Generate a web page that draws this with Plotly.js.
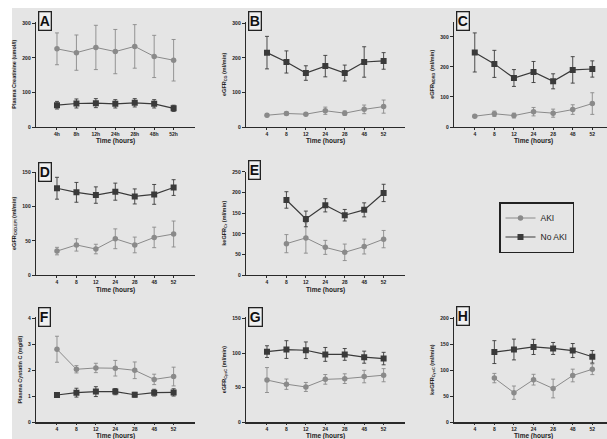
<!DOCTYPE html>
<html>
<head>
<meta charset="utf-8">
<script src="https://cdn.plot.ly/plotly-3.0.1.min.js"></script>
<style>html,body{margin:0;padding:0;background:#fff;}#chart{width:607px;height:439px;}</style>
</head>
<body>
<div id="chart"></div>
<script>
// ---- categories ----
const catsA = ["4h","8h","12h","24h","28h","48h","52h"];
const cats  = ["4","8","12","24","28","48","52"];

// ---- A: Plasma Creatinine (umol/l) ----
const A_aki      = [226, 215, 230, 218, 233, 204, 193];
const A_aki_err  = [46, 51, 64, 64, 63, 61, 60];
const A_no       = [63, 68, 69, 67, 70, 67, 54];
const A_no_err   = [11, 13, 13, 12, 12, 12, 9];
// ---- B: eGFR CG ----
const B_aki      = [34, 39, 37, 47, 40, 51, 59];
const B_aki_err  = [4, 4.5, 4, 10.5, 6.5, 12.5, 19];
const B_no       = [215, 188, 156, 176, 156, 188, 191];
const B_no_err   = [47, 32, 21, 31, 23, 44, 24];
// ---- C: eGFR MDRD ----
const C_aki      = [36, 44, 38, 51, 46, 58, 78];
const C_aki_err  = [3.5, 9, 8, 14, 13.5, 16, 36];
const C_no       = [248, 210, 163, 183, 152, 190, 193];
const C_no_err   = [65, 45, 28, 35, 25, 44, 27];
// ---- D: eGFR CKD-EPI ----
const D_aki      = [35, 44, 38, 53, 44, 55, 60];
const D_aki_err  = [5.5, 9, 7, 14.5, 11.5, 15, 19];
const D_no       = [127, 121, 117, 122, 115, 118, 128];
const D_no_err   = [16, 14.5, 12, 12.5, 11, 14.5, 11.5];
// ---- E: keGFR Cr ----
const E_aki      = [null, 76, 90, 67, 55, 69, 87];
const E_aki_err  = [null, 22, 37, 17, 20, 18, 21];
const E_no       = [null, 182, 136, 169, 145, 158, 199];
const E_no_err   = [null, 20, 19, 16, 14, 17, 21];
// ---- F: Plasma Cystatin C (mg/dl) ----
const F_aki      = [2.81, 2.04, 2.09, 2.08, 2.0, 1.65, 1.76];
const F_aki_err  = [0.5, 0.14, 0.18, 0.3, 0.32, 0.2, 0.36];
const F_no       = [1.05, 1.14, 1.18, 1.18, 1.06, 1.14, 1.15];
const F_no_err   = [0.08, 0.17, 0.19, 0.12, 0.09, 0.13, 0.14];
// ---- G: eGFR CysC ----
const G_aki      = [61, 55, 51, 62, 63, 66, 68];
const G_aki_err  = [18, 7.5, 6.5, 7, 7, 9, 9.5];
const G_no       = [102, 105, 104, 98, 98, 94, 92];
const G_no_err   = [8.5, 12.8, 12, 10, 8.5, 8.7, 9];
// ---- H: keGFR CysC ----
const H_aki      = [null, 85, 57, 82, 65, 90, 102];
const H_aki_err  = [null, 9, 12.8, 10.3, 18, 12.2, 10.3];
const H_no       = [null, 135, 140, 145, 142, 138, 126];
const H_no_err   = [null, 22, 20, 14.6, 11.5, 13.5, 12];

const seriesNames = ["AKI", "No AKI"];
const xTitle = "Time (hours)";

// ---- panel layout config ----
const W = 607, H = 439;
const colPx = [[36, 195, [-1.08, 7.1]], [246, 405, [-1.08, 7.1]], [454, 607, [-1.06, 6.75]]];
const rowPx = [[127, 21.5], [275, 171.5], [422.3, 317]];
const xTitleY = [140.5, 289.5, 435.5];

const panels = [
  {L:"A", r:0, c:0, x:catsA, aki:A_aki, akiE:A_aki_err, no:A_no, noE:A_no_err, yr:[0,305], dt:100, yt:"Plasma Creatinine (umol/l)", lab:[45,21]},
  {L:"B", r:0, c:1, x:cats, aki:B_aki, akiE:B_aki_err, no:B_no, noE:B_no_err, yr:[0,305], dt:100, yt:"eGFR<sub>CG</sub> (ml/min)", lab:[255,21]},
  {L:"C", r:0, c:2, x:cats, aki:C_aki, akiE:C_aki_err, no:C_no, noE:C_no_err, yr:[0,351], dt:100, yt:"eGFR<sub>MDRD</sub> (ml/min)", lab:[462.5,21]},
  {L:"D", r:1, c:0, x:cats, aki:D_aki, akiE:D_aki_err, no:D_no, noE:D_no_err, yr:[0,151.5], dt:50, yt:"eGFR<sub>CKD-EPI</sub> (ml/min)", lab:[44.5,171.5]},
  {L:"E", r:1, c:1, x:cats, aki:E_aki, akiE:E_aki_err, no:E_no, noE:E_no_err, yr:[0,251], dt:50, yt:"keGFR<sub>Cr</sub> (ml/min)", lab:[254,170]},
  {L:"F", r:2, c:0, x:cats, aki:F_aki, akiE:F_aki_err, no:F_no, noE:F_no_err, yr:[0,4.05], dt:1, yt:"Plasma Cystatin C (mg/dl)", lab:[44,316.5]},
  {L:"G", r:2, c:1, x:cats, aki:G_aki, akiE:G_aki_err, no:G_no, noE:G_no_err, yr:[0,152], dt:50, yt:"eGFR<sub>CysC</sub> (ml/min)", lab:[255,316.5]},
  {L:"H", r:2, c:2, x:cats, aki:H_aki, akiE:H_aki_err, no:H_no, noE:H_no_err, yr:[0,202.5], dt:50, yt:"keGFR<sub>CysC</sub> (ml/min)", lab:[463,316]}
];

const akiCol = "#8a8a8a", noCol = "#3a3a3a", axCol = "#2a2a2a";
const FONT = "Liberation Sans, Arial, sans-serif";

const data = [];
const layout = {
  width: W, height: H,
  margin: {l:0, r:0, t:0, b:0},
  paper_bgcolor: "#ffffff",
  plot_bgcolor: "rgba(0,0,0,0)",
  font: {family: FONT, color: "#222"},
  showlegend: true,
  legend: {
    x: 499/W, y: 1 - 202/H, xanchor: "left", yanchor: "top",
    bgcolor: "rgba(0,0,0,0)", bordercolor: "#222", borderwidth: 1.5,
    font: {family: FONT, size: 8.5, color: "#222"},
    itemwidth: 30, tracegroupgap: 0
  },
  shapes: [{
    type: "rect", xref: "paper", yref: "paper", layer: "below",
    x0: 12/W, x1: 1, y0: 0, y1: 1 - 8/H,
    fillcolor: "#e5e5e5", line: {width: 0}
  }],
  annotations: []
};

panels.forEach((p, i) => {
  const k = i + 1;
  const xa = "x" + (k === 1 ? "" : k), ya = "y" + (k === 1 ? "" : k);
  const col = colPx[p.c], row = rowPx[p.r];
  const first = (i === 0);
  data.push({
    type: "scatter", mode: "lines+markers", name: seriesNames[0],
    x: p.x, y: p.aki, xaxis: xa, yaxis: ya, showlegend: first,
    line: {color: akiCol, width: 1}, marker: {symbol: "circle", size: 5.5, color: akiCol},
    error_y: {type: "data", array: p.akiE, visible: true, color: akiCol, thickness: 0.9, width: 2}
  });
  data.push({
    type: "scatter", mode: "lines+markers", name: seriesNames[1],
    x: p.x, y: p.no, xaxis: xa, yaxis: ya, showlegend: first,
    line: {color: noCol, width: 1.2}, marker: {symbol: "square", size: 6, color: noCol},
    error_y: {type: "data", array: p.noE, visible: true, color: noCol, thickness: 0.9, width: 2}
  });
  const xKey = "xaxis" + (k === 1 ? "" : k), yKey = "yaxis" + (k === 1 ? "" : k);
  layout[xKey] = {
    domain: [col[0]/W, col[1]/W], anchor: ya, type: "category",
    categoryorder: "array", categoryarray: p.x, range: col[2],
    showline: true, linecolor: axCol, linewidth: 1.3, showgrid: false, zeroline: false,
    ticks: "outside", ticklen: 1.5, tickwidth: 1, tickcolor: axCol,
    tickfont: {family: FONT, size: 5, color: "#222", weight: 700},
    fixedrange: true
  };
  layout[yKey] = {
    domain: [1 - row[0]/H, 1 - row[1]/H], anchor: xa,
    range: p.yr, dtick: p.dt, tick0: 0,
    showline: true, linecolor: axCol, linewidth: 1.3, showgrid: false, zeroline: false,
    ticks: "outside", ticklen: 3, tickwidth: 1, tickcolor: axCol,
    tickfont: {family: FONT, size: 5, color: "#222", weight: 700},
    title: {text: p.yt, font: {family: FONT, size: 5.5, color: "#222", weight: 700}, standoff: 5},
    fixedrange: true
  };
  // x-axis title
  layout.annotations.push({
    xref: "paper", yref: "paper",
    x: ((col[0] + col[1]) / 2 - (p.c === 2 ? 0 : 0)) / W, y: 1 - xTitleY[p.r]/H,
    xanchor: "center", yanchor: "middle", showarrow: false,
    text: "<b>" + xTitle + "</b>",
    font: {family: FONT, size: 6.5, color: "#222"}
  });
  // panel letter
  layout.annotations.push({
    xref: "paper", yref: "paper", x: p.lab[0]/W, y: 1 - p.lab[1]/H,
    xanchor: "center", yanchor: "middle", showarrow: false,
    text: "<b>" + p.L + "</b>",
    font: {family: FONT, size: 14, color: "#111"},
    bgcolor: "#f0f0f0", bordercolor: "#222", borderwidth: 1.3, borderpad: 0.5
  });
});

// column 3: center x-title on the tick span like the reference
layout.annotations.forEach(a => {
  if (a.text === "<b>" + xTitle + "</b>" && a.x > 0.7) a.x = 533 / W;
});

Plotly.newPlot("chart", data, layout, {staticPlot: true, displayModeBar: false});
</script>
</body>
</html>
